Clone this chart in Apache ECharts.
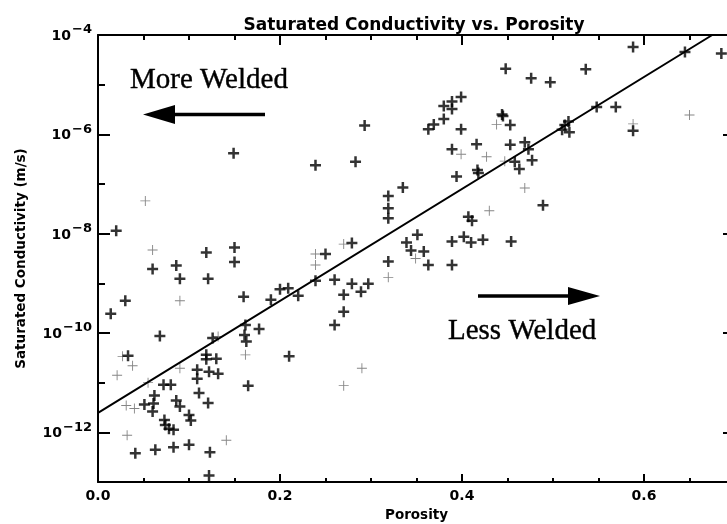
<!DOCTYPE html>
<html>
<head>
<meta charset="utf-8">
<script src="https://cdn.jsdelivr.net/npm/echarts@6/dist/echarts.min.js"></script>
<style>
html,body{margin:0;padding:0;background:#fff;}
#chart{width:727px;height:524px;}
</style>
</head>
<body>
<div id="chart"></div>
<script>
// Porosity (fraction) and log10 of saturated conductivity (m/s), clearly printed points
var PHI_SOLID = [0.149,0.020,0.060,0.086,0.090,0.119,0.121,0.150,0.150,0.160,0.030,0.014,
  0.293,0.239,0.283,0.319,0.319,0.319,0.335,0.351,0.339,0.344,0.319,0.279,0.250,0.239,0.260,
  0.279,0.297,0.289,0.270,0.200,0.209,0.220,0.190,0.177,0.162,0.161,0.163,0.165,0.210,0.270,0.260,
  0.448,0.476,0.497,0.399,0.389,0.380,0.389,0.380,0.369,0.363,0.399,0.444,0.445,0.453,0.389,
  0.416,0.453,0.469,0.473,0.477,0.458,0.463,0.417,0.418,0.394,0.489,0.513,0.517,0.510,0.518,
  0.588,0.645,0.685,0.548,0.569,0.588,0.536,0.407,0.411,0.389,0.402,0.410,0.423,0.454,0.358,
  0.363,0.389,0.068,0.033,0.072,0.080,0.062,0.061,0.060,0.051,0.086,0.090,0.100,0.102,0.073,
  0.074,0.078,0.083,0.041,0.063,0.083,0.100,0.123,0.122,0.119,0.119,0.130,0.122,0.132,0.109,
  0.109,0.111,0.121,0.126];
var LOGK_SOLID = [-6.38,-7.94,-8.71,-8.64,-8.91,-8.38,-8.91,-8.28,-8.57,-9.27,-9.35,-9.61,
  -5.82,-6.62,-6.55,-7.24,-7.49,-7.69,-7.07,-8.02,-8.18,-8.34,-8.56,-8.19,-8.41,-8.95,-8.93,
  -9.01,-9.01,-9.17,-9.23,-9.12,-9.10,-9.25,-9.33,-9.92,-9.84,-10.04,-10.17,-11.06,-10.47,-9.57,-9.84,
  -4.68,-4.87,-4.95,-5.25,-5.34,-5.43,-5.49,-5.69,-5.80,-5.90,-5.90,-5.60,-5.63,-5.81,-6.30,
  -6.20,-6.21,-6.16,-6.30,-6.52,-6.55,-6.70,-6.72,-6.78,-6.85,-7.43,-5.81,-5.74,-5.91,-5.96,
  -4.24,-4.34,-4.37,-5.45,-5.45,-5.93,-4.69,-7.66,-7.74,-8.16,-8.06,-8.18,-8.12,-8.16,-8.36,
  -8.63,-8.63,-10.06,-10.46,-11.04,-11.04,-11.26,-11.42,-11.58,-11.44,-11.36,-11.48,-11.65,-11.76,-11.75,
  -11.85,-11.93,-11.95,-12.42,-12.35,-12.30,-12.25,-12.40,-12.87,-10.44,-10.53,-10.52,-10.78,-10.82,-10.74,
  -10.92,-11.21,-11.41,-10.10];
// Faintly printed points
var PHI_FAINT = [0.052,0.060,0.090,0.349,0.319,0.270,0.239,0.239,0.162,0.290,0.270,0.438,0.399,
  0.427,0.447,0.469,0.430,0.650,0.588,0.027,0.038,0.021,0.055,0.040,0.031,0.032,0.141,0.090,0.132];
var LOGK_FAINT = [-7.34,-8.33,-9.35,-8.50,-8.88,-8.21,-8.41,-8.63,-10.44,-10.71,-11.06,-5.80,-6.40,
  -6.45,-6.54,-7.08,-7.54,-5.61,-5.79,-10.47,-10.66,-10.85,-11.00,-11.52,-11.46,-12.06,-12.16,-10.71,-10.07];
// Regression line end points
var TREND_PHI = [0, 0.675];
var TREND_LOGK = [-11.61, -4];
// Ticks
var X_MAJOR = [0, 0.2, 0.4, 0.6];
var X_MINOR = [0.05, 0.1, 0.15, 0.25, 0.3, 0.35, 0.45, 0.5, 0.55, 0.65];
var Y_MAJOR = [-12, -10, -8, -6, -4];
var Y_MINOR = [-13, -11, -9, -7, -5];

function zip(a, b) { return a.map(function (v, i) { return [v, b[i]]; }); }

var FONT = 'DejaVu Sans';
var chart = echarts.init(document.getElementById('chart'), null, {renderer: 'canvas'});

function xAx(pos, ticks, len, main) {
  return {
    type: 'value', position: pos, min: 0, max: 0.7, interval: 0.05,
    axisLine: {show: main, onZero: false, lineStyle: {color: '#000', width: 2}},
    axisTick: {show: true, inside: true, length: len, customValues: ticks, lineStyle: {color: '#000', width: 2}},
    axisLabel: (main && pos === 'bottom') ? {
      show: true, customValues: X_MAJOR, margin: 7, color: '#000',
      fontFamily: FONT, fontWeight: 'bold', fontSize: 14,
      formatter: function (v) { return v.toFixed(1); }
    } : {show: false},
    splitLine: {show: false}
  };
}
function yAx(pos, ticks, len, main) {
  return {
    type: 'value', position: pos, min: -13, max: -4, interval: 1,
    axisLine: {show: main, onZero: false, lineStyle: {color: '#000', width: 2}},
    axisTick: {show: true, inside: true, length: len, customValues: ticks, lineStyle: {color: '#000', width: 2}},
    axisLabel: (main && pos === 'left') ? {
      show: true, customValues: Y_MAJOR, margin: 6, color: '#000',
      formatter: function (v) { return '{b|10}{s|\u2212' + Math.abs(Math.round(v)) + '}'; },
      rich: {
        b: {fontFamily: FONT, fontWeight: 'bold', fontSize: 14, lineHeight: 14, padding: [6, 0, 3, 0], color: '#000'},
        s: {fontFamily: FONT, fontWeight: 'bold', fontSize: 13, lineHeight: 13, padding: [0, 0, 10, 1], color: '#000'}
      }
    } : {show: false},
    splitLine: {show: false}
  };
}

var xa0 = xAx('bottom', X_MAJOR, 8, true);
xa0.name = 'Porosity';
xa0.nameLocation = 'middle';
xa0.nameGap = 26;
xa0.nameTextStyle = {fontFamily: FONT, fontWeight: 'bold', fontSize: 13.5, color: '#000'};

var ya0 = yAx('left', Y_MAJOR, 12, true);
ya0.name = 'Saturated Conductivity (m/s)';
ya0.nameLocation = 'middle';
ya0.nameGap = 70;
ya0.nameTextStyle = {fontFamily: FONT, fontWeight: 'bold', fontSize: 13.5, color: '#000'};

var CROSS = 'path://M4.25,0H6.75V4.25H11V6.75H6.75V11H4.25V6.75H0V4.25H4.25Z';
var CROSS_THIN = 'path://M5,0H6V5H11V6H6V11H5V6H0V5H5Z';

var option = {
  backgroundColor: '#fff',
  animation: false,
  title: {
    text: 'Saturated Conductivity vs. Porosity',
    left: 409, top: 12, textAlign: 'center',
    textStyle: {fontFamily: FONT, fontWeight: 'bold', fontSize: 17, color: '#000'}
  },
  grid: {left: 98, top: 35, width: 637, height: 447, containLabel: false, outerBoundsMode: 'none'},
  xAxis: [xa0, xAx('bottom', X_MINOR, 4, false), xAx('top', X_MAJOR, 10, true), xAx('top', X_MINOR, 5, false)],
  yAxis: [ya0, yAx('left', Y_MINOR, 7, false), yAx('right', Y_MAJOR, 12, true), yAx('right', Y_MINOR, 7, false)],
  series: [
    {
      type: 'line', data: zip(TREND_PHI, TREND_LOGK), symbol: 'none', silent: true,
      lineStyle: {color: '#000', width: 2}, z: 3
    },
    {
      type: 'scatter', data: zip(PHI_FAINT, LOGK_FAINT), symbol: CROSS_THIN, symbolSize: 10,
      itemStyle: {color: '#666'}, silent: true, z: 2
    },
    {
      type: 'scatter', data: zip(PHI_SOLID, LOGK_SOLID), symbol: CROSS, symbolSize: 11,
      itemStyle: {color: '#000'}, silent: true, z: 4
    }
  ],
  graphic: [
    {type: 'text', x: 130, y: 80, style: {text: 'More Welded', fontFamily: 'Liberation Serif', fontSize: 29, fill: '#000', stroke: '#000', lineWidth: 0.4, align: 'left', verticalAlign: 'middle', textAlign: 'left', textVerticalAlign: 'middle'}},
    {type: 'line', shape: {x1: 265, y1: 114.5, x2: 170, y2: 114.5}, style: {stroke: '#000', lineWidth: 3.5}},
    {type: 'polygon', shape: {points: [[143, 114.5], [175, 105], [175, 124]]}, style: {fill: '#000'}},
    {type: 'text', x: 448, y: 331, style: {text: 'Less Welded', fontFamily: 'Liberation Serif', fontSize: 29, fill: '#000', stroke: '#000', lineWidth: 0.4, align: 'left', verticalAlign: 'middle', textAlign: 'left', textVerticalAlign: 'middle'}},
    {type: 'line', shape: {x1: 478, y1: 296, x2: 572, y2: 296}, style: {stroke: '#000', lineWidth: 3.5}},
    {type: 'polygon', shape: {points: [[600, 296], [568, 287], [568, 305]]}, style: {fill: '#000'}}
  ]
};
chart.setOption(option);
</script>
</body>
</html>
